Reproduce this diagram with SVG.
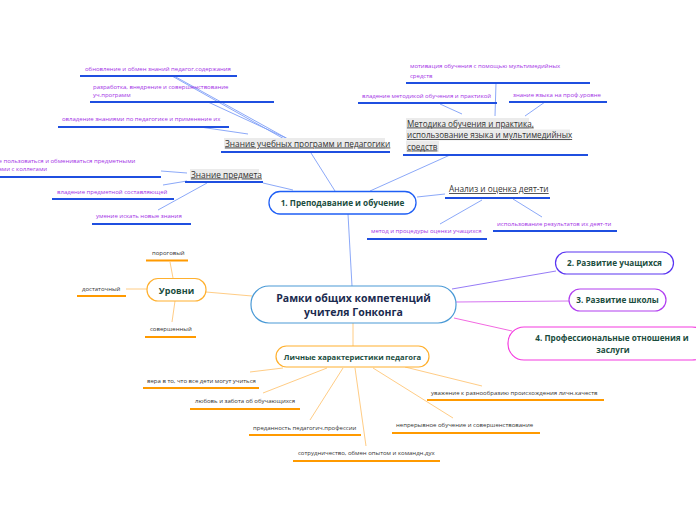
<svg xmlns="http://www.w3.org/2000/svg" width="696" height="520" viewBox="0 0 696 520">
<style>
.bg{fill:#ffffff}
.cb{stroke:#7e9ef7;stroke-width:0.9;fill:none}
.co{stroke:#ffc677;stroke-width:0.9;fill:none}
.ulb{stroke:#1f4fe0;stroke-width:2}
.ulo{stroke:#ff9a00;stroke-width:2}
.pt{font-family:"Open Sans","Liberation Sans",sans-serif;font-size:6px;fill:#a331e6}
.gt{font-family:"Open Sans","Liberation Sans",sans-serif;font-size:6px;fill:#333333}
.st{font-family:"Open Sans","Liberation Sans",sans-serif;font-size:8.3px;fill:#333333;text-decoration:underline}
.hl{fill:#ebebeb}
.nt{font-family:"Open Sans","Liberation Sans",sans-serif;font-size:8.2px;font-weight:bold;fill:#1b4d3e;text-anchor:middle}
.ct{font-family:"Open Sans","Liberation Sans",sans-serif;font-size:10.5px;font-weight:bold;fill:#1b2b4f;text-anchor:middle}
</style>
<rect class="bg" x="0" y="0" width="696" height="520"/>
<g id="connectors">
  <line class="cb" x1="172" y1="76" x2="286" y2="140"/>
  <line class="cb" x1="174" y1="76" x2="288" y2="139"/>
  <line class="cb" x1="208" y1="102" x2="286" y2="138"/>
  <line class="cb" x1="200" y1="127" x2="248" y2="134"/>
  <line class="cb" x1="311" y1="153" x2="335" y2="191"/>
  <line class="cb" x1="187" y1="173" x2="161" y2="171"/>
  <line class="cb" x1="187" y1="181" x2="163" y2="185"/>
  <line class="cb" x1="207" y1="183" x2="158" y2="210"/>
  <line class="cb" x1="263" y1="183" x2="293" y2="190"/>
  <line class="cb" x1="370" y1="191" x2="450" y2="155"/>
  <line class="cb" x1="496" y1="83" x2="495" y2="116"/>
  <line class="cb" x1="440" y1="104" x2="462" y2="114"/>
  <line class="cb" x1="545" y1="102" x2="525" y2="116"/>
  <line class="cb" x1="417" y1="197" x2="445" y2="194"/>
  <line class="cb" x1="482" y1="200" x2="440" y2="224"/>
  <line class="cb" x1="513" y1="199" x2="542" y2="217"/>
  <line class="cb" x1="348" y1="214" x2="352" y2="286"/>
  <line stroke="#8a6cf5" stroke-width="0.9" x1="452" y1="289" x2="556" y2="271"/>
  <line stroke="#d063ee" stroke-width="0.9" x1="456" y1="302" x2="569" y2="301"/>
  <line stroke="#f058de" stroke-width="0.9" x1="454" y1="318" x2="512" y2="331"/>
  <line class="co" x1="206" y1="292" x2="252" y2="296"/>
  <line class="co" x1="173" y1="278" x2="170" y2="262"/>
  <line class="co" x1="147" y1="289" x2="126" y2="289"/>
  <line class="co" x1="175" y1="301" x2="172" y2="322"/>
  <line class="co" x1="353" y1="323" x2="353" y2="346"/>
  <line class="co" x1="283" y1="368" x2="250" y2="372"/>
  <line class="co" x1="327" y1="368" x2="263" y2="393"/>
  <line class="co" x1="343" y1="368" x2="310" y2="420"/>
  <line class="co" x1="355" y1="368" x2="366" y2="446"/>
  <line class="co" x1="373" y1="368" x2="453" y2="418"/>
  <line class="co" x1="405" y1="367" x2="482" y2="386"/>
</g>
<g id="n-update">
  <text class="pt" x="85" y="71">обновление и обмен знаний педагог.содержания</text>
  <line class="ulb" x1="80" y1="76" x2="237" y2="76"/>
</g>
<g id="n-develop">
  <text class="pt" x="93" y="89">разработка, внедрение и совершенствование</text>
  <text class="pt" x="93" y="97">уч.программ</text>
  <line class="ulb" x1="90" y1="102" x2="274" y2="102"/>
</g>
<g id="n-master">
  <text class="pt" x="62" y="121">овладение знаниями по педагогике и применение их</text>
  <line class="ulb" x1="58" y1="127" x2="229" y2="127"/>
</g>
<g id="n-programs">
  <rect class="hl" x="224" y="138" width="161" height="11"/>
  <text class="st" x="225" y="146.5">Знание учебных программ и педагогики</text>
  <line class="ulb" x1="221" y1="152" x2="390" y2="152"/>
</g>
<g id="n-subject">
  <rect class="hl" x="190" y="169" width="69" height="11"/>
  <text class="st" x="191" y="177.5">Знание предмета</text>
  <line class="ulb" x1="185" y1="182" x2="263" y2="182"/>
</g>
<g id="n-share">
  <text class="pt" x="-1.5" y="163">е пользоваться и обмениваться предметными</text>
  <text class="pt" x="-1.5" y="171">ами с коллегами</text>
  <line class="ulb" x1="0" y1="177" x2="161" y2="177"/>
</g>
<g id="n-subjpart">
  <text class="pt" x="57" y="194">владение предметной составляющей</text>
  <line class="ulb" x1="52" y1="199" x2="174" y2="199"/>
</g>
<g id="n-search">
  <text class="pt" x="96" y="218">умение искать новые знания</text>
  <line class="ulb" x1="92" y1="224" x2="191" y2="224"/>
</g>
<g id="n-method">
  <rect class="hl" x="406" y="118" width="123" height="11"/>
  <rect class="hl" x="406" y="129.5" width="164" height="11"/>
  <rect class="hl" x="406" y="141" width="33" height="11"/>
  <text class="st" x="407" y="126.5" style="font-size:8.1px">Методика обучения и практика,</text>
  <text class="st" x="407" y="138" style="font-size:8.1px">использование языка и мультимедийных</text>
  <text class="st" x="407" y="149.5" style="font-size:8.1px">средств</text>
  <line class="ulb" x1="403" y1="155" x2="588" y2="155"/>
</g>
<g id="n-motiv">
  <text class="pt" x="410" y="68">мотивация обучения с помощью мультимедийных</text>
  <text class="pt" x="410" y="78">средств</text>
  <line class="ulb" x1="406" y1="83" x2="590" y2="83"/>
</g>
<g id="n-methpract">
  <text class="pt" x="362" y="98">владение методикой обучения и практикой</text>
  <line class="ulb" x1="358" y1="103" x2="497" y2="103"/>
</g>
<g id="n-lang">
  <text class="pt" x="513" y="97">знание языка на проф.уровне</text>
  <line class="ulb" x1="509" y1="102" x2="607" y2="102"/>
</g>
<g id="n-analysis">
  <text class="st" x="449" y="192">Анализ и оценка деят-ти</text>
  <line class="ulb" x1="445" y1="198" x2="550" y2="198"/>
</g>
<g id="n-assess">
  <text class="pt" x="371" y="233">метод и процедуры оценки учащихся</text>
  <line class="ulb" x1="367" y1="239" x2="487" y2="239"/>
</g>
<g id="n-results">
  <text class="pt" x="497" y="226">использование результатов их деят-ти</text>
  <line class="ulb" x1="493" y1="231" x2="617" y2="231"/>
</g>
<g id="n-teach">
  <rect x="269" y="191.5" width="147" height="22.5" rx="11" fill="#ffffff" stroke="#1f5ff5" stroke-width="1.3"/>
  <text class="nt" x="342.5" y="206">1. Преподавание и обучение</text>
</g>
<g id="n-center">
  <rect x="251" y="286" width="205" height="37" rx="18" fill="#ffffff" stroke="#4a9ad6" stroke-width="1.2"/>
  <text class="ct" x="353.5" y="302">Рамки общих компетенций</text>
  <text class="ct" x="353.5" y="315.5">учителя Гонконга</text>
</g>
<g id="n-students">
  <rect x="555.5" y="252" width="118" height="22" rx="11" fill="#ffffff" stroke="#5a35f2" stroke-width="1.2"/>
  <text class="nt" x="614.5" y="266">2. Развитие учащихся</text>
</g>
<g id="n-school">
  <rect x="569" y="289" width="97" height="22" rx="11" fill="#ffffff" stroke="#b13ff0" stroke-width="1.2"/>
  <text class="nt" x="617.5" y="303">3. Развитие школы</text>
</g>
<g id="n-prof">
  <rect x="508" y="327" width="200" height="33" rx="16" fill="#ffffff" stroke="#f43be0" stroke-width="1.2"/>
  <text class="nt" x="612" y="341">4. Профессиональные отношения и</text>
  <text class="nt" x="613" y="352.5">заслуги</text>
</g>
<g id="n-levels">
  <rect x="147" y="278.5" width="59" height="22.5" rx="11" fill="#ffffff" stroke="#ffb02e" stroke-width="1.2"/>
  <text class="nt" x="176.5" y="293.5" style="font-size:9px">Уровни</text>
</g>
<g id="n-threshold">
  <text class="gt" x="152" y="255">пороговый</text>
  <line class="ulo" x1="146" y1="260.5" x2="188" y2="260.5"/>
</g>
<g id="n-sufficient">
  <text class="gt" x="82" y="291">достаточный</text>
  <line class="ulo" x1="77" y1="296" x2="126" y2="296"/>
</g>
<g id="n-perfect">
  <text class="gt" x="150" y="331">совершенный</text>
  <line class="ulo" x1="145" y1="337" x2="196" y2="337"/>
</g>
<g id="n-personal">
  <rect x="276" y="346" width="153" height="21" rx="10.5" fill="#ffffff" stroke="#ffb02e" stroke-width="1.2"/>
  <text class="nt" x="352.5" y="359.5" style="font-size:7.6px">Личные характеристики педагога</text>
</g>
<g id="n-belief">
  <text class="gt" x="147" y="383">вера в то, что все дети могут учиться</text>
  <line class="ulo" x1="143" y1="388" x2="259" y2="388"/>
</g>
<g id="n-love">
  <text class="gt" x="195" y="403">любовь и забота об обучающихся</text>
  <line class="ulo" x1="190" y1="409" x2="300" y2="409"/>
</g>
<g id="n-devotion">
  <text class="gt" x="253" y="430">преданность педагогич.профессии</text>
  <line class="ulo" x1="249" y1="435" x2="361" y2="435"/>
</g>
<g id="n-cooperation">
  <text class="gt" x="298" y="455">сотрудничество, обмен опытом и командн.дух</text>
  <line class="ulo" x1="293" y1="461" x2="440" y2="461"/>
</g>
<g id="n-learning">
  <text class="gt" x="396" y="427">непрерывное обучение и совершенствование</text>
  <line class="ulo" x1="392" y1="433" x2="540" y2="433"/>
</g>
<g id="n-respect">
  <text class="gt" x="431" y="395">уважение к разнообразию происхождения личн.качеств</text>
  <line class="ulo" x1="427" y1="400" x2="604" y2="400"/>
</g>
</svg>
